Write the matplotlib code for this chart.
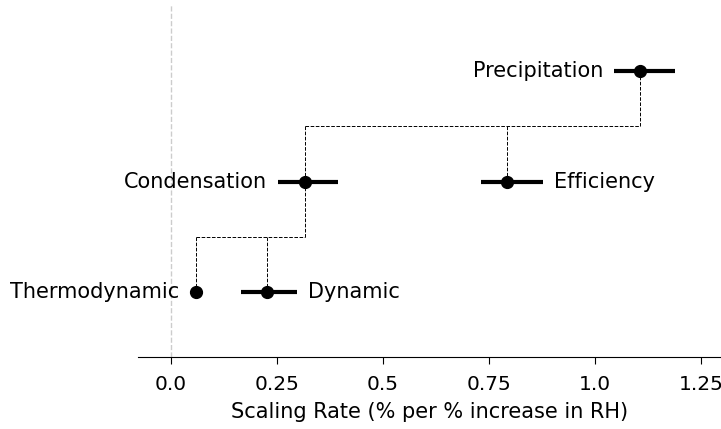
import matplotlib.pyplot as plt

# scaling rates (% per % increase in RH) with uncertainty ranges
names = ['Precipitation', 'Condensation', 'Efficiency', 'Thermodynamic', 'Dynamic']
rates = [1.106, 0.316, 0.792, 0.059, 0.226]
lows = [1.045, 0.252, 0.731, 0.047, 0.165]
highs = [1.189, 0.394, 0.877, 0.071, 0.297]
levels = [2, 1, 1, 0, 0]
label_side = ['left', 'left', 'right', 'left', 'right']

fig = plt.figure(figsize=(7.21, 4.29), dpi=100)
ax = fig.add_axes([0.191, 0.168, 0.809, 0.82])

ax.axvline(0, color='#cccccc', linestyle='--', linewidth=1, zorder=0)

# decomposition brackets: parent -> (left child, right child)
def bracket(parent, left, right, y_parent, y_child):
    mid = (y_parent + y_child) / 2
    xs = [rates[parent], rates[left], rates[right]]
    kw = dict(color='black', linestyle='--', linewidth=0.7, zorder=1)
    ax.plot([rates[parent], rates[parent]], [y_parent, mid], **kw)
    ax.plot([min(xs), max(xs)], [mid, mid], **kw)
    ax.plot([rates[left], rates[left]], [mid, y_child], **kw)
    ax.plot([rates[right], rates[right]], [mid, y_child], **kw)

bracket(0, 1, 2, levels[0], levels[1])
bracket(1, 3, 4, levels[1], levels[3])

for name, r, lo, hi, y, side in zip(names, rates, lows, highs, levels, label_side):
    ax.errorbar(r, y, xerr=[[r - lo], [hi - r]], fmt='o', color='black',
                markersize=8.5, elinewidth=3, capsize=0, zorder=3)
    if side == 'left':
        ax.annotate(name, (lo, y), xytext=(-8, 0), textcoords='offset points',
                    ha='right', va='center', fontsize=15)
    else:
        ax.annotate(name, (hi, y), xytext=(8, 0), textcoords='offset points',
                    ha='left', va='center', fontsize=15)

ax.set_xlim(-0.078, 1.297)
ax.set_ylim(-0.59, 2.6)
ax.set_xticks([0, 0.25, 0.5, 0.75, 1.0, 1.25])
ax.set_xticklabels(['0.0', '0.25', '0.5', '0.75', '1.0', '1.25'])
ax.tick_params(axis='x', labelsize=14.5, length=5, pad=8)
ax.set_yticks([])
for s in ['left', 'right', 'top']:
    ax.spines[s].set_visible(False)
ax.set_xlabel('Scaling Rate (% per % increase in RH)', fontsize=15, labelpad=6)

fig.savefig('out.png', dpi=100)
